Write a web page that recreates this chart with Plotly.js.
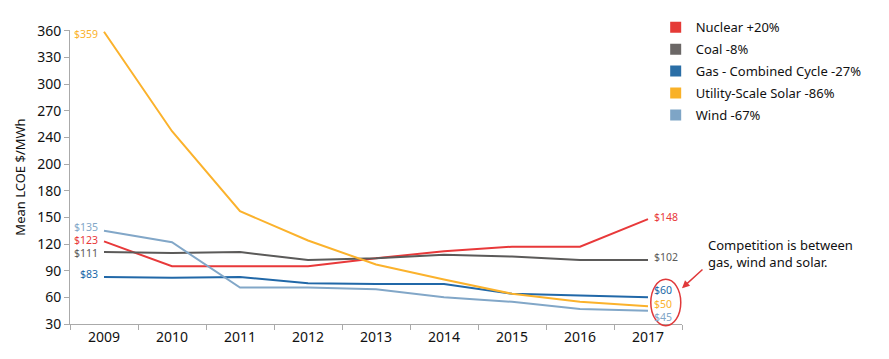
<!DOCTYPE html>
<html>
<head>
<meta charset="utf-8">
<script src="https://cdn.plot.ly/plotly-3.0.1.min.js"></script>
<style>html,body{margin:0;padding:0;background:#fff;}#chart{width:889px;height:359px;}</style>
</head>
<body>
<div id="chart"></div>
<script>
const years = ['2009','2010','2011','2012','2013','2014','2015','2016','2017'];
const nuclear = [123, 95, 95, 95, 104, 112, 117, 117, 148];
const coal    = [111, 110, 111, 102, 104, 108, 106, 102, 102];
const gas     = [83, 82, 83, 76, 75, 75, 64, 62, 60];
const solar   = [359, 247, 157, 124, 97, 80, 64, 55, 50];
const wind    = [135, 122, 71, 71, 69, 60, 55, 47, 45];
const seriesNames = ['Nuclear +20%', 'Coal -8%', 'Gas - Combined Cycle -27%', 'Utility-Scale Solar -86%', 'Wind -67%'];
const colors = ['#e8393a', '#5b5a59', '#2168a8', '#fbb22c', '#82a7c8'];
const legendColors = ['#e53a36', '#6b6766', '#2a6ea6', '#f9b128', '#7ea5c6'];
const yTickVals = [30, 60, 90, 120, 150, 180, 210, 240, 270, 300, 330, 360];
const yTickText = ['30', '60', '90', '120', '150', '180', '200', '240', '270', '300', '330', '360'];
const seriesData = [nuclear, coal, gas, solar, wind];
// label y-shifts (px) to keep end labels apart
const leftShift = [1, -1, 3, -2, 4];
const rightShift = [2, 3, 7, 2.5, -6];

const FONT = 'Noto Sans, Lato, sans-serif';
const traces = [];
seriesData.forEach((d, i) => {
  traces.push({
    x: years, y: d, type: 'scatter', mode: 'lines',
    line: {color: colors[i], width: 2}, showlegend: false, hoverinfo: 'skip'
  });
});
seriesData.forEach((d, i) => {
  traces.push({
    x: [null], y: [null], type: 'scatter', mode: 'markers', name: seriesNames[i],
    legendgroup: 'g' + i,
    marker: {symbol: 'square', size: 11, color: legendColors[i]}, showlegend: true
  });
});

const firstIdx = 0, lastIdx = years.length - 1;
const annotations = [];
seriesData.forEach((d, i) => {
  annotations.push({
    x: firstIdx, y: d[firstIdx], xref: 'x', yref: 'y', text: '$' + d[firstIdx],
    showarrow: false, xanchor: 'right', yanchor: 'middle', xshift: -5, yshift: leftShift[i],
    borderpad: 0, font: {family: FONT, size: 10.5, color: colors[i]}
  });
  annotations.push({
    x: lastIdx, y: d[lastIdx], xref: 'x', yref: 'y', text: '$' + d[lastIdx],
    showarrow: false, xanchor: 'left', yanchor: 'middle', xshift: 5, yshift: rightShift[i],
    borderpad: 0, font: {family: FONT, size: 10.5, color: colors[i]}
  });
});
annotations.push({
  xref: 'paper', yref: 'paper', x: 1.04, y: 0.24, xanchor: 'left', yanchor: 'middle',
  text: 'Competition is between<br>gas, wind and solar.', showarrow: false, align: 'left',
  font: {family: FONT, size: 13, color: '#111'}
});
annotations.push({
  xref: 'paper', yref: 'paper', x: 1.0, y: 0.122, text: '', showarrow: true,
  ax: 22, ay: -20, arrowhead: 2, arrowsize: 1, arrowwidth: 1.5, arrowcolor: '#e0393a'
});

const layout = {
  width: 889, height: 359,
  margin: {l: 70, r: 207, t: 30, b: 35, autoexpand: false},
  paper_bgcolor: '#fff', plot_bgcolor: '#fff',
  font: {family: FONT, color: '#111'},
  showlegend: true,
  legend: {
    x: 0.957, y: 1.06, xanchor: 'left', yanchor: 'top',
    font: {family: FONT, size: 13, color: '#111'}, tracegroupgap: 2,
    bgcolor: 'rgba(0,0,0,0)'
  },
  xaxis: {
    type: 'category', range: [-0.5, 8.5], showgrid: false, zeroline: false,
    showline: true, linecolor: '#aaa', linewidth: 1,
    ticks: 'outside', tickson: 'boundaries', ticklen: 5, tickcolor: '#aaa',
    tickfont: {family: FONT, size: 14, color: '#111'}
  },
  yaxis: {
    range: [30, 361], showgrid: false, zeroline: false,
    showline: true, linecolor: '#aaa', linewidth: 1,
    ticks: 'outside', ticklen: 5, tickcolor: '#aaa',
    tickvals: yTickVals, ticktext: yTickText,
    tickfont: {family: FONT, size: 14, color: '#111'},
    title: {text: 'Mean LCOE $/MWh', font: {family: FONT, size: 13, color: '#111'}, standoff: 8}
  },
  annotations: annotations,
  shapes: [{
    type: 'circle', xref: 'paper', yref: 'paper',
    x0: 0.949, x1: 0.998, y0: -0.006, y1: 0.152,
    line: {color: '#e0393a', width: 1.5}
  }]
};
Plotly.newPlot('chart', traces, layout, {displayModeBar: false, staticPlot: true});
</script>
</body>
</html>
